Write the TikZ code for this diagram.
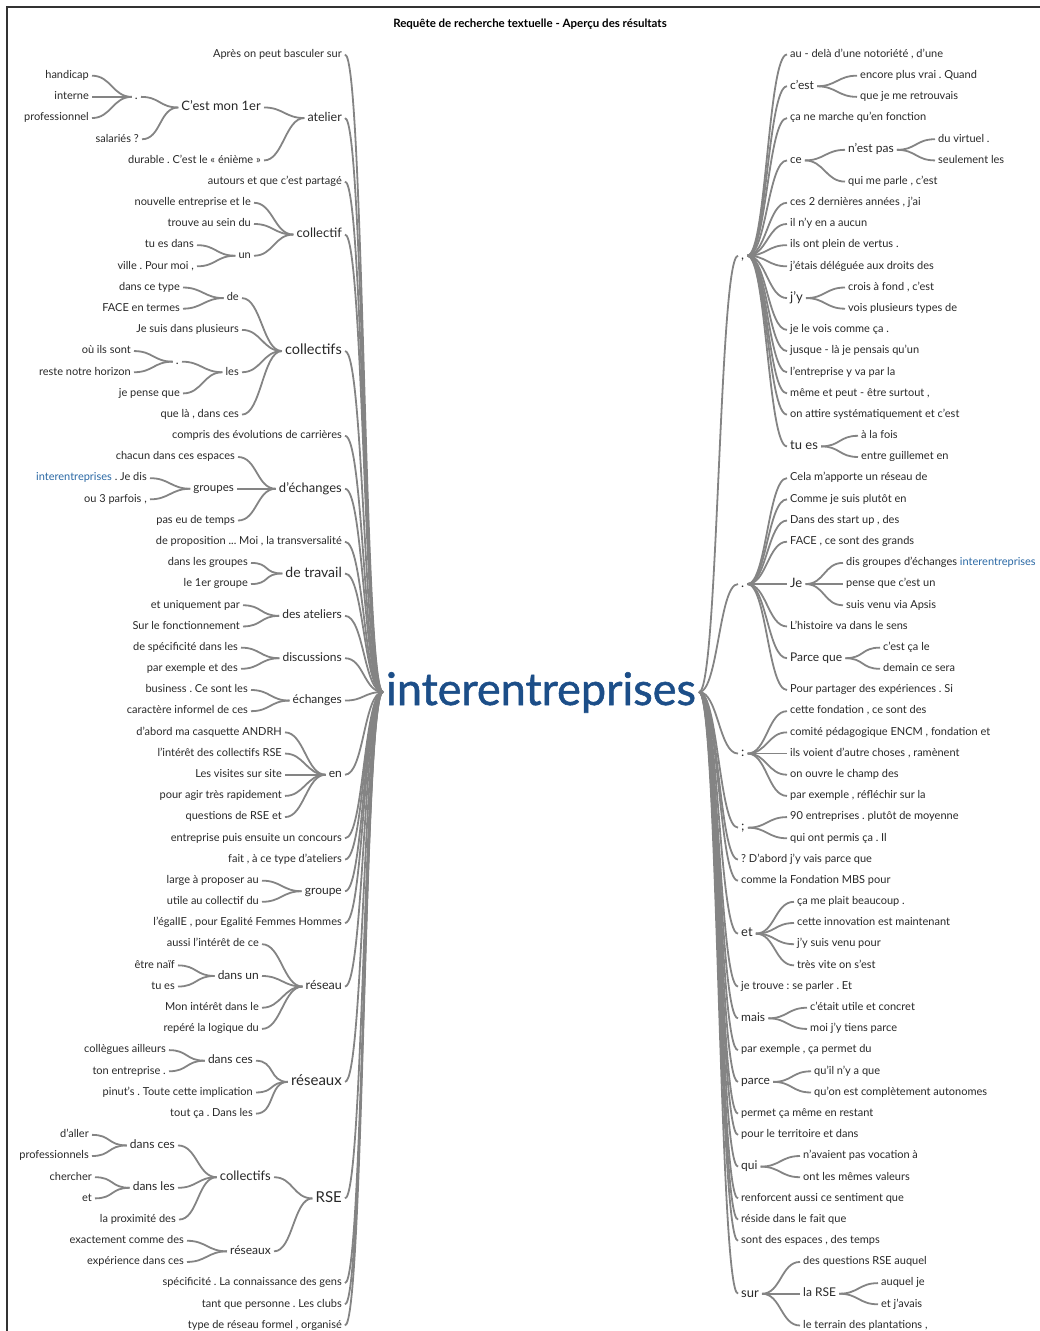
\documentclass[tikz,border=0pt]{standalone}
\usepackage{fontspec}
\setmainfont{Lato}
\newfontfamily\hubfont[FakeBold=1.2]{Lato}
\usetikzlibrary{calc}
\definecolor{txt}{RGB}{40,40,40}
\definecolor{lnk}{RGB}{132,132,132}
\definecolor{hub}{RGB}{28,78,136}
\definecolor{hil}{RGB}{42,104,164}
\tikzset{
  lf/.style={font=\fontsize{11}{13}\selectfont, text height=8pt, text depth=2.4pt},
  s11/.style={font=\fontsize{11}{13}\selectfont, text height=8pt, text depth=2.4pt},
  s115/.style={font=\fontsize{11.5}{13}\selectfont, text height=8.4pt, text depth=2.5pt},
  s12/.style={font=\fontsize{12}{14}\selectfont, text height=8.7pt, text depth=2.6pt},
  s125/.style={font=\fontsize{12.5}{14}\selectfont, text height=9.1pt, text depth=2.7pt},
  s13/.style={font=\fontsize{13}{15}\selectfont, text height=9.4pt, text depth=2.8pt},
  s14/.style={font=\fontsize{14}{16}\selectfont, text height=10.1pt, text depth=3pt},
  s145/.style={font=\fontsize{14.5}{16}\selectfont, text height=10.5pt, text depth=3.1pt},
  s15/.style={font=\fontsize{15}{17}\selectfont, text height=10.9pt, text depth=3.2pt},
  aE/.style={anchor=east},
  aW/.style={anchor=west},
  lk/.style={draw=lnk, line width=1.8pt, out=180, in=0, distance=22pt, shorten <=3pt, shorten >=3pt},
  rk/.style={draw=lnk, line width=1.8pt, out=0, in=180, distance=22pt, shorten <=3pt, shorten >=3pt}
}
\newcommand\wtl[5]{\node[aE,#1] (#2) at (#3) {#5}; \draw[lk] (#4.west) to (#2.east);}
\newcommand\wtr[5]{\node[aW,#1] (#2) at (#3) {#5}; \draw[rk] (#4.east) to (#2.west);}
\frenchspacing
\begin{document}
\frenchspacing
\begin{tikzpicture}[x=1pt,y=-1pt, every node/.style={inner sep=0pt, text=txt}]
\useasboundingbox (0,0) rectangle (1040,1331);
\draw[line width=1.2pt, color=black!80] (7,1331) -- (7,7) -- (1040,7);
\node[font=\bfseries\fontsize{11.5}{13}\selectfont, text=black] (title) at (530,24) {Requête de recherche textuelle - Aperçu des résultats};
\node[font=\hubfont\fontsize{45}{45}\selectfont, text=hub, text height=35pt, text depth=9pt] (root) at (541,692) {interentreprises};
\begin{scope}[yshift=-54.5pt, y=-21.183pt]
% ---------------- left side ----------------
\wtl{lf}{a0}{342,0}{root}{Après on peut basculer sur}
\wtl{s125}{a1}{342,3}{root}{atelier}
\wtl{s13}{a1a}{261,2.5}{a1}{C'est mon 1er}
\wtl{s12}{a1a1}{138,2}{a1a}{.}
\wtl{lf}{a1a1a}{89,1}{a1a1}{handicap}
\wtl{lf}{a1a1b}{89,2}{a1a1}{interne}
\wtl{lf}{a1a1c}{89,3}{a1a1}{professionnel}
\wtl{lf}{a1a2}{139,4}{a1a}{salariés ?}
\wtl{lf}{a1b}{261,5}{a1}{durable . C'est le « énième »}
\wtl{lf}{a2}{342,6}{root}{autours et que c'est partagé}
\wtl{s13}{a3}{342,8.5}{root}{collectif}
\wtl{lf}{a3a}{251,7}{a3}{nouvelle entreprise et le}
\wtl{lf}{a3b}{251,8}{a3}{trouve au sein du}
\wtl{s11}{a3c}{251,9.5}{a3}{un}
\wtl{lf}{a3c1}{194,9}{a3c}{tu es dans}
\wtl{lf}{a3c2}{194,10}{a3c}{ville . Pour moi ,}
\wtl{s145}{a4}{342,14}{root}{collectifs}
\wtl{s11}{a4a}{239,11.5}{a4}{de}
\wtl{lf}{a4a1}{180,11}{a4a}{dans ce type}
\wtl{lf}{a4a2}{180,12}{a4a}{FACE en termes}
\wtl{lf}{a4b}{239,13}{a4}{Je suis dans plusieurs}
\wtl{s11}{a4c}{239,15}{a4}{les}
\wtl{s12}{a4c1}{179,14.5}{a4c}{.}
\wtl{lf}{a4c1a}{131,14}{a4c1}{où ils sont}
\wtl{lf}{a4c1b}{131,15}{a4c1}{reste notre horizon}
\wtl{lf}{a4c2}{180,16}{a4c}{je pense que}
\wtl{lf}{a4d}{239,17}{a4}{que là , dans ces}
\wtl{lf}{a5}{342,18}{root}{compris des évolutions de carrières}
\wtl{s13}{a6}{342,20.5}{root}{d'échanges}
\wtl{lf}{a6a}{235,19}{a6}{chacun dans ces espaces}
\wtl{s115}{a6b}{234,20.5}{a6}{groupes}
\wtl{lf}{a6b1}{147,20}{a6b}{\textcolor{hil}{interentreprises} . Je dis}
\wtl{lf}{a6b2}{147,21}{a6b}{ou 3 parfois ,}
\wtl{lf}{a6c}{235,22}{a6}{pas eu de temps}
\wtl{lf}{a7}{342,23}{root}{de proposition ... Moi , la transversalité}
\wtl{s14}{a8}{342,24.5}{root}{de travail}
\wtl{lf}{a8a}{248,24}{a8}{dans les groupes}
\wtl{lf}{a8b}{248,25}{a8}{le 1er groupe}
\wtl{s12}{a9}{342,26.5}{root}{des ateliers}
\wtl{lf}{a9a}{240,26}{a9}{et uniquement par}
\wtl{lf}{a9b}{240,27}{a9}{Sur le fonctionnement}
\wtl{s12}{a10}{342,28.5}{root}{discussions}
\wtl{lf}{a10a}{238,28}{a10}{de spécificité dans les}
\wtl{lf}{a10b}{238,29}{a10}{par exemple et des}
\wtl{s12}{a11}{342,30.5}{root}{échanges}
\wtl{lf}{a11a}{248,30}{a11}{business . Ce sont les}
\wtl{lf}{a11b}{248,31}{a11}{caractère informel de ces}
\wtl{s12}{a12}{342,34}{root}{en}
\wtl{lf}{a12a}{282,32}{a12}{d'abord ma casquette ANDRH}
\wtl{lf}{a12b}{282,33}{a12}{l'intérêt des collectifs RSE}
\wtl{lf}{a12c}{282,34}{a12}{Les visites sur site}
\wtl{lf}{a12d}{282,35}{a12}{pour agir très rapidement}
\wtl{lf}{a12e}{282,36}{a12}{questions de RSE et}
\wtl{lf}{a13}{342,37}{root}{entreprise puis ensuite un concours}
\wtl{lf}{a14}{342,38}{root}{fait , à ce type d'ateliers}
\wtl{s12}{a15}{342,39.5}{root}{groupe}
\wtl{lf}{a15a}{259,39}{a15}{large à proposer au}
\wtl{lf}{a15b}{259,40}{a15}{utile au collectif du}
\wtl{lf}{a16}{342,41}{root}{l'égalIE , pour Egalité Femmes Hommes}
\wtl{s125}{a17}{342,44}{root}{réseau}
\wtl{lf}{a17a}{259,42}{a17}{aussi l'intérêt de ce}
\wtl{s12}{a17b}{259,43.5}{a17}{dans un}
\wtl{lf}{a17b1}{175,43}{a17b}{être naïf}
\wtl{lf}{a17b2}{175,44}{a17b}{tu es}
\wtl{lf}{a17c}{259,45}{a17}{Mon intérêt dans le}
\wtl{lf}{a17d}{259,46}{a17}{repéré la logique du}
\wtl{s15}{a18}{342,48.5}{root}{réseaux}
\wtl{s12}{a18a}{253,47.5}{a18}{dans ces}
\wtl{lf}{a18a1}{166,47}{a18a}{collègues ailleurs}
\wtl{lf}{a18a2}{166,48}{a18a}{ton entreprise .}
\wtl{lf}{a18b}{253,49}{a18}{pinut's . Toute cette implication}
\wtl{lf}{a18c}{253,50}{a18}{tout ça . Dans les}
\wtl{s15}{a19}{342,54}{root}{RSE}
\wtl{s13}{a19a}{271,53}{a19}{collectifs}
\wtl{s12}{a19a1}{175,51.5}{a19a}{dans ces}
\wtl{lf}{a19a1a}{89,51}{a19a1}{d'aller}
\wtl{lf}{a19a1b}{89,52}{a19a1}{professionnels}
\wtl{s12}{a19a2}{175,53.5}{a19a}{dans les}
\wtl{lf}{a19a2a}{92,53}{a19a2}{chercher}
\wtl{lf}{a19a2b}{92,54}{a19a2}{et}
\wtl{lf}{a19a3}{176,55}{a19a}{la proximité des}
\wtl{s12}{a19b}{271,56.5}{a19}{réseaux}
\wtl{lf}{a19b1}{184,56}{a19b}{exactement comme des}
\wtl{lf}{a19b2}{184,57}{a19b}{expérience dans ces}
\wtl{lf}{a20}{342,58}{root}{spécificité . La connaissance des gens}
\wtl{lf}{a21}{342,59}{root}{tant que personne . Les clubs}
\wtl{lf}{a22}{342,60}{root}{type de réseau formel , organisé}
% ---------------- right side ----------------
\wtr{s13}{b1}{741,9.5}{root}{,}
\wtr{lf}{b1a}{790,0}{b1}{au - delà d'une notoriété , d'une}
\wtr{s12}{b1b}{790,1.5}{b1}{c'est}
\wtr{lf}{b1b1}{860,1}{b1b}{encore plus vrai . Quand}
\wtr{lf}{b1b2}{860,2}{b1b}{que je me retrouvais}
\wtr{lf}{b1c}{790,3}{b1}{ça ne marche qu'en fonction}
\wtr{s115}{b1d}{790,5}{b1}{ce}
\wtr{s12}{b1d1}{848,4.5}{b1d}{n'est pas}
\wtr{lf}{b1d1a}{938,4}{b1d1}{du virtuel .}
\wtr{lf}{b1d1b}{938,5}{b1d1}{seulement les}
\wtr{lf}{b1d2}{848,6}{b1d}{qui me parle , c'est}
\wtr{lf}{b1e}{790,7}{b1}{ces 2 dernières années , j'ai}
\wtr{lf}{b1f}{790,8}{b1}{il n'y en a aucun}
\wtr{lf}{b1g}{790,9}{b1}{ils ont plein de vertus .}
\wtr{lf}{b1h}{790,10}{b1}{j'étais déléguée aux droits des}
\wtr{s13}{b1i}{790,11.5}{b1}{j'y}
\wtr{lf}{b1i1}{848,11}{b1i}{crois à fond , c'est}
\wtr{lf}{b1i2}{848,12}{b1i}{vois plusieurs types de}
\wtr{lf}{b1j}{790,13}{b1}{je le vois comme ça .}
\wtr{lf}{b1k}{790,14}{b1}{jusque - là je pensais qu'un}
\wtr{lf}{b1l}{790,15}{b1}{l'entreprise y va par la}
\wtr{lf}{b1m}{790,16}{b1}{même et peut - être surtout ,}
\wtr{lf}{b1n}{790,17}{b1}{on attire systématiquement et c'est}
\wtr{s13}{b1o}{790,18.5}{b1}{tu es}
\wtr{lf}{b1o1}{861,18}{b1o}{à la fois}
\wtr{lf}{b1o2}{861,19}{b1o}{entre guillemet en}
\wtr{s13}{b2}{741,25}{root}{.}
\wtr{lf}{b2a}{790,20}{b2}{Cela m'apporte un réseau de}
\wtr{lf}{b2b}{790,21}{b2}{Comme je suis plutôt en}
\wtr{lf}{b2c}{790,22}{b2}{Dans des start up , des}
\wtr{lf}{b2d}{790,23}{b2}{FACE , ce sont des grands}
\wtr{s13}{b2e}{790,25}{b2}{Je}
\wtr{lf}{b2e1}{846,24}{b2e}{dis groupes d'échanges \textcolor{hil}{interentreprises}}
\wtr{lf}{b2e2}{846,25}{b2e}{pense que c'est un}
\wtr{lf}{b2e3}{846,26}{b2e}{suis venu via Apsis}
\wtr{lf}{b2f}{790,27}{b2}{L'histoire va dans le sens}
\wtr{s12}{b2g}{790,28.5}{b2}{Parce que}
\wtr{lf}{b2g1}{883,28}{b2g}{c'est ça le}
\wtr{lf}{b2g2}{883,29}{b2g}{demain ce sera}
\wtr{lf}{b2h}{790,30}{b2}{Pour partager des expériences . Si}
\wtr{s13}{b3}{741,33}{root}{:}
\wtr{lf}{b3a}{790,31}{b3}{cette fondation , ce sont des}
\wtr{lf}{b3b}{790,32}{b3}{comité pédagogique ENCM , fondation et}
\wtr{lf}{b3c}{790,33}{b3}{ils voient d'autre choses , ramènent}
\wtr{lf}{b3d}{790,34}{b3}{on ouvre le champ des}
\wtr{lf}{b3e}{790,35}{b3}{par exemple , réfléchir sur la}
\wtr{s13}{b4}{741,36.5}{root}{;}
\wtr{lf}{b4a}{790,36}{b4}{90 entreprises . plutôt de moyenne}
\wtr{lf}{b4b}{790,37}{b4}{qui ont permis ça . Il}
\wtr{lf}{b5}{741,38}{root}{? D'abord j'y vais parce que}
\wtr{lf}{b6}{741,39}{root}{comme la Fondation MBS pour}
\wtr{s13}{b7}{741,41.5}{root}{et}
\wtr{lf}{b7a}{797,40}{b7}{ça me plait beaucoup .}
\wtr{lf}{b7b}{797,41}{b7}{cette innovation est maintenant}
\wtr{lf}{b7c}{797,42}{b7}{j'y suis venu pour}
\wtr{lf}{b7d}{797,43}{b7}{très vite on s'est}
\wtr{lf}{b8}{741,44}{root}{je trouve : se parler . Et}
\wtr{s12}{b9}{741,45.5}{root}{mais}
\wtr{lf}{b9a}{810,45}{b9}{c'était utile et concret}
\wtr{lf}{b9b}{810,46}{b9}{moi j'y tiens parce}
\wtr{lf}{b10}{741,47}{root}{par exemple , ça permet du}
\wtr{s12}{b11}{741,48.5}{root}{parce}
\wtr{lf}{b11a}{814,48}{b11}{qu'il n'y a que}
\wtr{lf}{b11b}{814,49}{b11}{qu'on est complètement autonomes}
\wtr{lf}{b12}{741,50}{root}{permet ça même en restant}
\wtr{lf}{b13}{741,51}{root}{pour le territoire et dans}
\wtr{s12}{b14}{741,52.5}{root}{qui}
\wtr{lf}{b14a}{803,52}{b14}{n'avaient pas vocation à}
\wtr{lf}{b14b}{803,53}{b14}{ont les mêmes valeurs}
\wtr{lf}{b15}{741,54}{root}{renforcent aussi ce sentiment que}
\wtr{lf}{b16}{741,55}{root}{réside dans le fait que}
\wtr{lf}{b17}{741,56}{root}{sont des espaces , des temps}
\wtr{s13}{b18}{741,58.5}{root}{sur}
\wtr{lf}{b18a}{803,57}{b18}{des questions RSE auquel}
\wtr{s12}{b18b}{803,58.5}{b18}{la RSE}
\wtr{lf}{b18b1}{881,58}{b18b}{auquel je}
\wtr{lf}{b18b2}{881,59}{b18b}{et j'avais}
\wtr{lf}{b18c}{803,60}{b18}{le terrain des plantations ,}
\end{scope}
\end{tikzpicture}
\end{document}
